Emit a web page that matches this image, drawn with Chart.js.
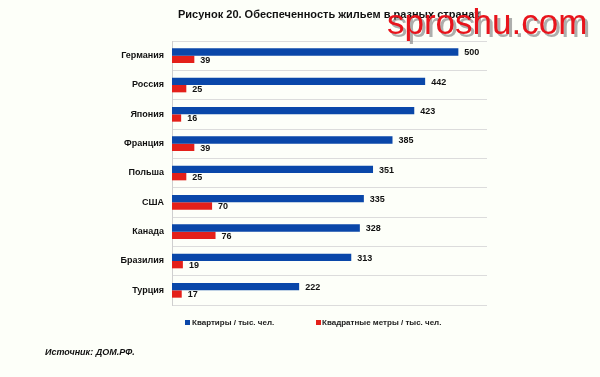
<!DOCTYPE html>
<html>
<head>
<meta charset="utf-8">
<script src="https://cdn.jsdelivr.net/npm/chart.js@4"></script>
<style>
  html, body { margin: 0; padding: 0; background: #fdfff9; }
  #wrap { width: 600px; height: 377px; position: relative; }
</style>
</head>
<body>
<div id="wrap"><canvas id="my-chart" width="600" height="377"></canvas></div>
<script>
const countries = ['Германия', 'Россия', 'Япония', 'Франция', 'Польша', 'США', 'Канада', 'Бразилия', 'Турция'];
const flats = [500, 442, 423, 385, 351, 335, 328, 313, 222];
const sqMeters = [39, 25, 16, 39, 25, 70, 76, 19, 17];
const seriesNames = ['Квартиры / тыс. чел.', 'Квадратные метры / тыс. чел.'];
const titleText = 'Рисунок 20. Обеспеченность жильем в разных странах';
const sourceText = 'Источник: ДОМ.РФ.';

const blue = '#0a47a9';
const red = '#e4201a';

// value labels to the right of each bar
const valueLabels = {
  id: 'valueLabels',
  afterDatasetsDraw(chart) {
    const c = chart.ctx;
    c.save();
    c.font = 'bold 9px "Liberation Sans", Arial, sans-serif';
    c.fillStyle = '#111';
    c.textBaseline = 'middle';
    chart.data.datasets.forEach((ds, i) => {
      chart.getDatasetMeta(i).data.forEach((bar, j) => {
        c.fillText(ds.data[j], bar.x + 6, bar.y + 1);
      });
    });
    c.restore();
  }
};

// title, legend, source and watermark
const decorations = {
  id: 'decorations',
  afterDraw(chart) {
    const c = chart.ctx;
    c.save();
    c.fillStyle = '#111';
    c.textBaseline = 'middle';
    c.font = 'bold 11px "Liberation Sans", Arial, sans-serif';
    c.fillText(titleText, 178, 15);

    c.font = 'bold 8px "Liberation Sans", Arial, sans-serif';
    c.fillStyle = blue;
    c.fillRect(185, 320, 5, 5);
    c.fillStyle = '#222';
    c.fillText(seriesNames[0], 192, 323);
    c.fillStyle = red;
    c.fillRect(316, 320, 5, 5);
    c.fillStyle = '#222';
    c.fillText(seriesNames[1], 322, 323);

    c.font = 'italic bold 9px "Liberation Sans", Arial, sans-serif';
    c.fillStyle = '#111';
    c.fillText(sourceText, 45, 353);

    c.font = '35px "Liberation Sans", Arial, sans-serif';
    c.textBaseline = 'alphabetic';
    c.fillStyle = 'rgba(120,120,120,0.6)';
    c.fillText('sproshu.com', 390, 37);
    c.fillStyle = '#e8141c';
    c.fillText('sproshu.com', 387, 34);
    c.restore();
  }
};

const ctx = document.getElementById('my-chart');
const myChart = new Chart(ctx, {
  type: 'bar',
  data: {
    labels: countries,
    datasets: [
      {
        label: seriesNames[0],
        data: flats,
        backgroundColor: blue,
        categoryPercentage: 0.5,
        barPercentage: 1.0
      },
      {
        label: seriesNames[1],
        data: sqMeters,
        backgroundColor: red,
        categoryPercentage: 0.5,
        barPercentage: 1.0
      }
    ]
  },
  options: {
    indexAxis: 'y',
    responsive: false,
    animation: false,
    layout: {
      padding: { left: 0, right: 113, top: 41, bottom: 72 }
    },
    plugins: {
      legend: { display: false },
      title: { display: false },
      tooltip: { enabled: false }
    },
    scales: {
      x: {
        min: 0,
        max: 550,
        display: false
      },
      y: {
        offset: true,
        afterFit(scale) { scale.width = 172; },
        grid: {
          offset: true,
          color: '#dcdcdc',
          drawTicks: false
        },
        border: { color: '#cfcfcf' },
        ticks: {
          color: '#111',
          padding: 8,
          font: { family: '"Liberation Sans", Arial, sans-serif', size: 9, weight: 'bold' }
        }
      }
    }
  },
  plugins: [valueLabels, decorations]
});
</script>
</body>
</html>
